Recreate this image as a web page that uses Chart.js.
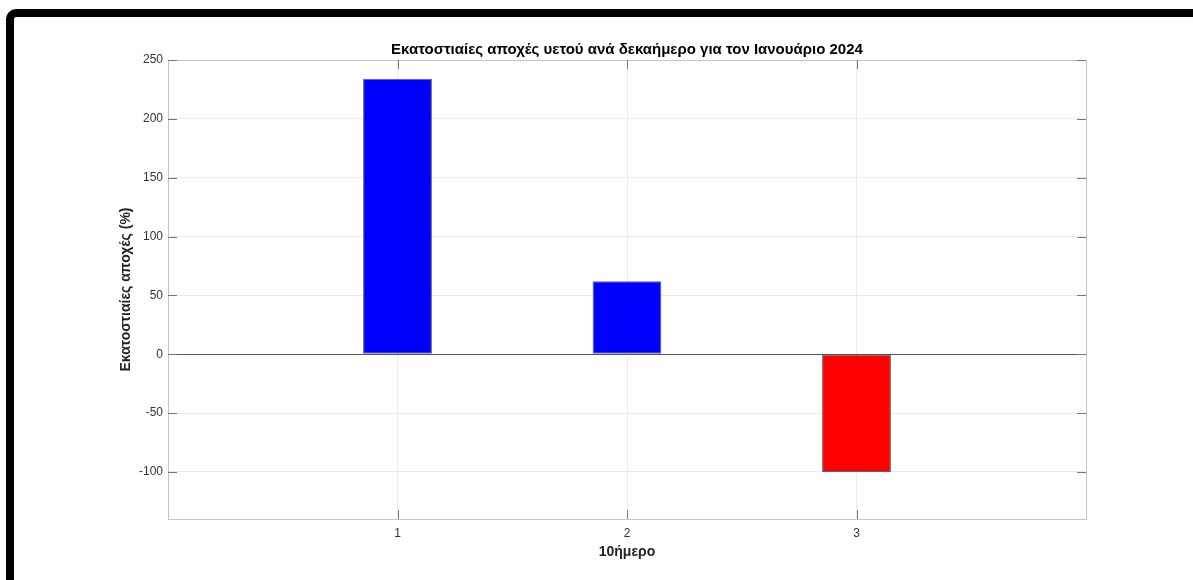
<!DOCTYPE html>
<html>
<head>
<meta charset="utf-8">
<script src="https://cdn.jsdelivr.net/npm/chart.js@4"></script>
<style>
    html, body { margin: 0; padding: 0; background: #fff; overflow: hidden; }
    .frame {
        position: absolute;
        left: 6px;
        top: 9px;
        width: 1300px;
        height: 700px;
        border-top: 8px solid #000;
        border-left: 8px solid #000;
        border-top-left-radius: 10px;
    }
    #chart { position: absolute; left: 0; top: 0; }
</style>
</head>
<body>
<div class="frame"></div>
<canvas id="chart" width="1193" height="580"></canvas>
<script>
// data
var categories = [1, 2, 3];
var values = [234, 62, -100];
var yTicks = [-100, -50, 0, 50, 100, 150, 200, 250];
var yMin = -140;
var yMax = 250;
var xMin = 0;
var xMax = 4;

var chartTitle = "Εκατοστιαίες αποχές υετού ανά δεκαήμερο για τον Ιανουάριο 2024";
var xTitle = "10ήμερο";
var yTitle = "Εκατοστιαίες αποχές (%)";

var fontFamily = "'Liberation Sans', Arial, Helvetica, sans-serif";
var boxColor = "#c4c4c4";
var gridColor = "#ebebeb";

// matlab-like inward ticks on all four sides, and the title centred over the axes
var axesDecor = {
    id: "axesDecor",
    afterDraw: function(chart) {
        var ctx = chart.ctx;
        var area = chart.chartArea;
        var len = 9;
        ctx.save();
        ctx.strokeStyle = "#777";
        ctx.lineWidth = 1;
        ctx.beginPath();
        categories.forEach(function(c) {
            var px = Math.round(chart.scales.x.getPixelForValue(c)) + 0.5;
            ctx.moveTo(px, area.bottom);
            ctx.lineTo(px, area.bottom - len);
            ctx.moveTo(px, area.top);
            ctx.lineTo(px, area.top + len);
        });
        yTicks.forEach(function(v) {
            var py = Math.round(chart.scales.y.getPixelForValue(v)) + 0.5;
            ctx.moveTo(area.left, py);
            ctx.lineTo(area.left + len, py);
            ctx.moveTo(area.right, py);
            ctx.lineTo(area.right - len, py);
        });
        ctx.stroke();

        ctx.fillStyle = "#000";
        ctx.font = "bold 15px " + fontFamily;
        ctx.textAlign = "center";
        ctx.textBaseline = "alphabetic";
        ctx.fillText(chartTitle, (area.left + area.right) / 2, area.top - 6);
        ctx.restore();
    }
};

var ctx = document.getElementById("chart").getContext("2d");
const barChart = new Chart(ctx, {
    type: "bar",
    plugins: [axesDecor],
    data: {
        datasets: [{
            data: categories.map(function(c, i) { return { x: c, y: values[i] }; }),
            backgroundColor: values.map(function(v) { return v >= 0 ? "#0000ff" : "#ff0000"; }),
            borderColor: "rgba(0, 0, 0, 0.6)",
            borderWidth: 1,
            borderSkipped: false,
            categoryPercentage: 1,
            barPercentage: 0.3
        }]
    },
    options: {
        responsive: false,
        animation: false,
        devicePixelRatio: 1,
        layout: {
            padding: { left: 110, right: 107, top: 60, bottom: 0 }
        },
        plugins: {
            legend: { display: false },
            tooltip: { enabled: false },
            title: { display: false }
        },
        scales: {
            x: {
                type: "linear",
                min: xMin,
                max: xMax,
                offset: false,
                afterBuildTicks: function(axis) {
                    axis.ticks = [xMin].concat(categories, [xMax]).map(function(v) { return { value: v }; });
                },
                afterFit: function(axis) {
                    axis.height = 61;
                },
                ticks: {
                    color: "#333",
                    font: { family: fontFamily, size: 12 },
                    padding: 7,
                    maxRotation: 0,
                    callback: function(v) {
                        return categories.indexOf(v) >= 0 ? String(v) : "";
                    }
                },
                grid: {
                    offset: false,
                    drawTicks: false,
                    color: function(c) {
                        if (c.tick && (c.tick.value === xMin || c.tick.value === xMax)) return boxColor;
                        return gridColor;
                    }
                },
                border: { color: boxColor, width: 1 },
                title: {
                    display: true,
                    text: xTitle,
                    color: "#222",
                    font: { family: fontFamily, size: 14, weight: "bold", lineHeight: 1.2 },
                    padding: { top: 0, bottom: 19 }
                }
            },
            y: {
                min: yMin,
                max: yMax,
                afterBuildTicks: function(axis) {
                    axis.ticks = yTicks.map(function(v) { return { value: v }; });
                },
                afterFit: function(axis) {
                    axis.width = 58;
                },
                ticks: {
                    color: "#333",
                    font: { family: fontFamily, size: 12 },
                    padding: 5
                },
                grid: {
                    drawTicks: false,
                    color: function(c) {
                        if (c.tick && c.tick.value === 0) return "#555";
                        if (c.tick && c.tick.value === yMax) return boxColor;
                        return gridColor;
                    }
                },
                border: { color: boxColor, width: 1 },
                title: {
                    display: true,
                    text: yTitle,
                    color: "#222",
                    font: { family: fontFamily, size: 14, weight: "bold", lineHeight: 1.2 },
                    padding: { top: 8, bottom: 0 }
                }
            }
        }
    }
});
</script>
</body>
</html>
